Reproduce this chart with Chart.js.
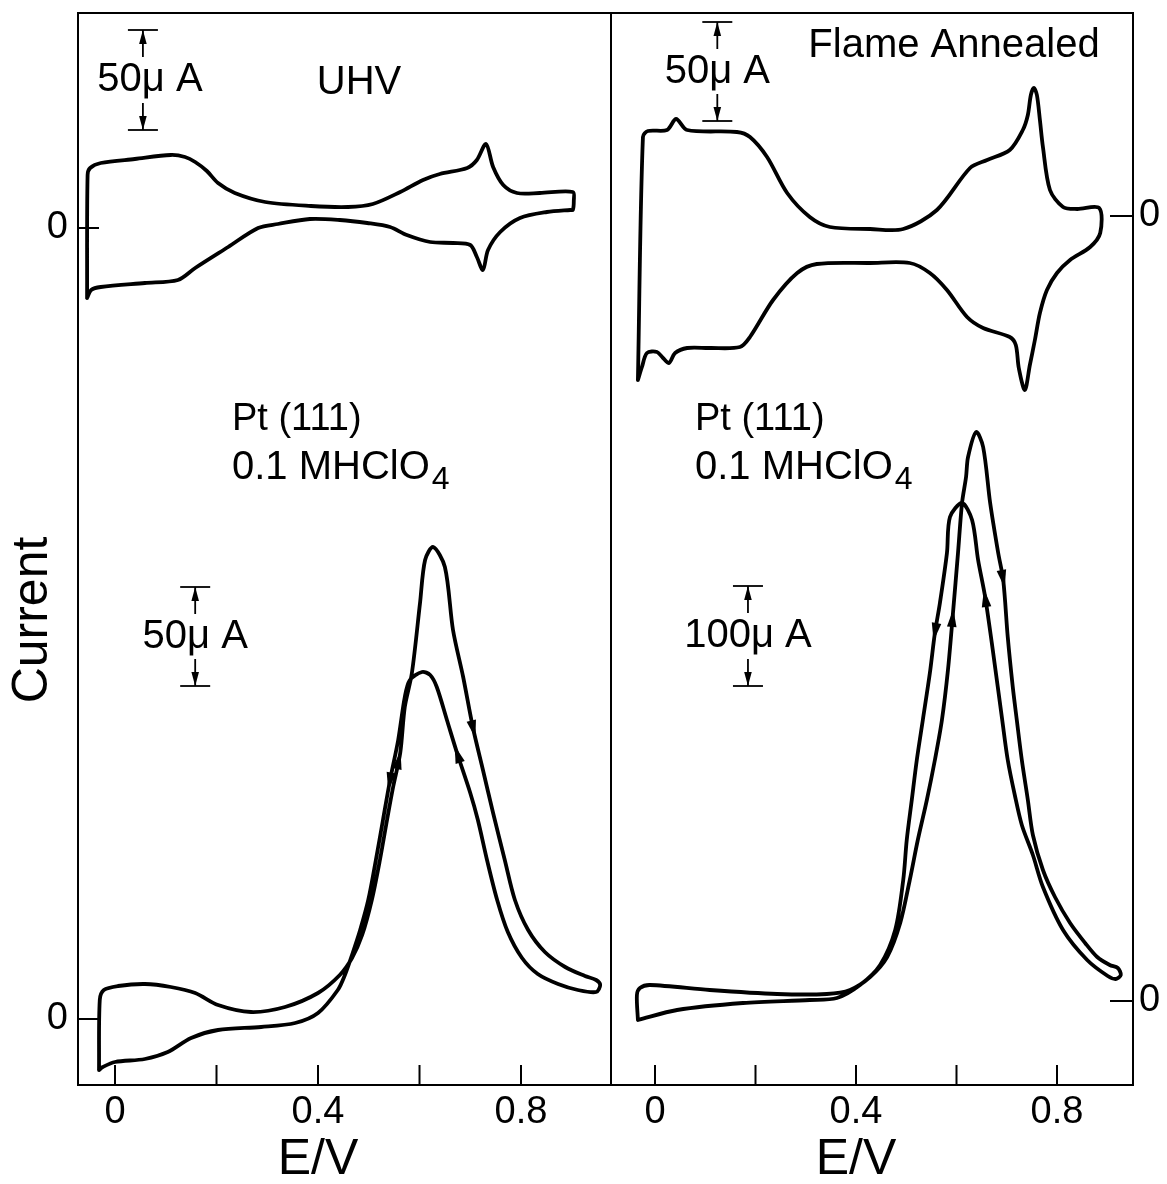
<!DOCTYPE html>
<html><head><meta charset="utf-8">
<script src="https://cdn.jsdelivr.net/npm/chart.js@4.4.0/dist/chart.umd.min.js"></script>
<style>
html,body{margin:0;padding:0;background:#fff;}
#wrap{position:relative;width:1167px;height:1184px;overflow:hidden;background:#fff;}
canvas{position:absolute;top:0;}
#cL{left:0;} #cR{left:600px;}
</style></head><body>
<div id="wrap"><canvas id="cL" width="612" height="1184"></canvas><canvas id="cR" width="567" height="1184"></canvas></div>
<script>
// ---------------- data ----------------
const xTicks = [0, 0.2, 0.4, 0.6, 0.8];
const xTickLabels = ['0', '', '0.4', '', '0.8'];

// UHV-prepared Pt(111), base voltammogram (E / V, I / uA)
const uhvBaseE = [-0.055,-0.054,-0.049,-0.028,0.039,0.110,0.138,0.158,0.181,0.203,0.236,0.296,0.386,0.459,0.508,0.562,0.607,0.640,0.694,0.713,0.731,0.745,0.765,0.792,0.837,0.902,0.904,0.902,0.897,0.851,0.798,0.759,0.735,0.725,0.713,0.700,0.666,0.621,0.575,0.542,0.497,0.443,0.384,0.321,0.282,0.223,0.158,0.124,0.059,-0.028,-0.047,-0.055];
const uhvBaseI = [-35,26.5,30,32.5,34.5,36.5,35.5,33,28.5,22.5,17.5,13,11,10.5,12,18,24,27,30,34,42,30.5,21.5,17.5,17.5,18,13.5,9,9,8,5,-2,-11,-21,-14.5,-8.5,-7.5,-7,-3.5,0.5,2.5,4,4.5,2,0,-9.5,-20,-26,-27.5,-29.5,-31,-35];

// UHV-prepared Pt(111), oxidation voltammogram
const uhvPeakE = [-0.0315,-0.030,-0.022,0.006,0.059,0.110,0.158,0.203,0.268,0.335,0.400,0.443,0.467,0.487,0.506,0.522,0.536,0.548,0.562,0.571,0.585,0.601,0.611,0.627,0.650,0.666,0.686,0.705,0.725,0.745,0.768,0.788,0.814,0.847,0.887,0.926,0.948,0.956,0.948,0.912,0.873,0.833,0.802,0.774,0.753,0.733,0.715,0.700,0.674,0.654,0.634,0.621,0.605,0.581,0.571,0.558,0.542,0.528,0.514,0.499,0.483,0.467,0.453,0.439,0.400,0.355,0.288,0.203,0.150,0.104,0.059,0,-0.024,-0.0315];
const uhvPeakI = [-25.5,9.5,14.5,16.5,17.5,16,13,7,3.5,6,13,22,30.5,42,59.5,79.5,99.5,116,133,156,173,208,229.5,236,226,194.5,171,146,124.5,103,79.5,59.5,44.5,33.5,26,21.5,19.5,17,13.5,14.5,17.5,22.5,30.5,43.5,59.5,79.5,99.5,113,133,149.5,166,172,173.5,169.5,161,139.5,119.5,99.5,79.5,59.5,44.5,32,22,14.5,3,-2,-4,-5.5,-9.5,-16.5,-20,-21.5,-24,-25.5];

// Flame-annealed Pt(111), base voltammogram
const flameBaseE = [-0.034,-0.024,-0.014,0.024,0.042,0.064,0.163,0.189,0.223,0.263,0.308,0.348,0.428,0.494,0.561,0.627,0.661,0.706,0.732,0.742,0.748,0.754,0.760,0.766,0.772,0.786,0.812,0.840,0.884,0.886,0.866,0.826,0.800,0.780,0.766,0.756,0.746,0.736,0.724,0.718,0.706,0.653,0.621,0.581,0.547,0.507,0.428,0.322,0.283,0.235,0.189,0.169,0.109,0.064,0.040,0.028,0.016,0.004,-0.016,-0.026,-0.034];
const flameBaseI = [-82,39.5,42.5,43,48.5,43,42,39.5,29.5,11.5,-0.5,-5.5,-6.5,-6.5,3,24,28,33,43,50.5,60.5,64,60.5,48,34.5,13,4.5,3.5,4,-8.5,-15.5,-22,-28.5,-37,-48.5,-62,-74.5,-87,-76,-64.5,-60.5,-56,-50.5,-37,-28.5,-23.5,-23.5,-24,-28.5,-42,-60.5,-65.5,-66,-66,-68.5,-73.5,-71,-68,-68.5,-75.5,-82];

// Flame-annealed Pt(111), oxidation voltammogram
const flamePeakE = [-0.034,-0.036,-0.030,-0.010,0.109,0.243,0.342,0.388,0.428,0.462,0.488,0.507,0.523,0.541,0.557,0.571,0.583,0.593,0.603,0.611,0.619,0.623,0.639,0.653,0.667,0.683,0.693,0.702,0.712,0.720,0.730,0.742,0.752,0.772,0.796,0.826,0.856,0.880,0.905,0.921,0.927,0.917,0.901,0.860,0.812,0.772,0.752,0.730,0.716,0.702,0.691,0.673,0.657,0.643,0.631,0.611,0.587,0.581,0.567,0.557,0.547,0.533,0.521,0.511,0.501,0.494,0.478,0.448,0.408,0.362,0.308,0.175,0.044,-0.034];
const flamePeakI = [-19,6,13,16,11,7,7,11,24,44,78,121,161,201,241,281,331,388,448,498,524,544,569,554,498,448,421,364,314,281,241,201,166,131,104,78,58,44,36,33,26,22,25,41,71,114,146,176,206,241,281,348,404,441,481,498,484,448,398,368,328,281,241,201,161,121,71,36,16,3,1,-2,-9,-19];

// scan-direction arrows on the oxidation curves (E, I, direction)
const uhvArrowE = [0.709, 0.566, 0.546, 0.674];
const uhvArrowI = [144.5, 129.5, 118, 133];
const uhvArrowDir = ['down', 'up', 'down', 'up'];
const flameArrowE = [0.6925, 0.593, 0.557, 0.657];
const flameArrowI = [421, 384, 368, 404];
const flameArrowDir = ['down', 'up', 'down', 'up'];

// ---------------- drawing ----------------
const FONT = '"Liberation Sans", Arial, Helvetica, sans-serif';
function pts(E, I) { return E.map((e, k) => ({ x: e, y: I[k] })); }
function cv(E, I, axis) {
  return { data: pts(E, I), yAxisID: axis, showLine: true, borderColor: '#000', backgroundColor: '#000',
    borderWidth: 3.8, pointRadius: 0, tension: 0.3, fill: false, borderCapStyle: 'round', borderJoinStyle: 'round' };
}
function seg(ctx, x0, y0, x1, y1) { ctx.beginPath(); ctx.moveTo(x0, y0); ctx.lineTo(x1, y1); ctx.stroke(); }
function tri(ctx, tx, ty, dx, dy, len, hw) {
  const n = Math.hypot(dx, dy) || 1; dx /= n; dy /= n;
  const bx = tx - dx * len, by = ty - dy * len;
  ctx.beginPath(); ctx.moveTo(tx, ty); ctx.lineTo(bx - dy * hw, by + dx * hw); ctx.lineTo(bx + dy * hw, by - dx * hw); ctx.closePath(); ctx.fill();
}
function drawCurveArrow(chart, ds, e, i, dir) {
  const meta = chart.getDatasetMeta(ds);
  const tx = chart.scales.x.getPixelForValue(e), ty = meta.yScale.getPixelForValue(i);
  const P = meta.data; let best = null, bd = 1e12;
  for (let k = 0; k < P.length - 1; k++) {
    const p = P[k], q = P[k + 1], dy = q.y - p.y;
    if (dir === 'up' ? dy >= 0 : dy <= 0) continue;
    const vx = q.x - p.x, vy = q.y - p.y, l2 = vx * vx + vy * vy; if (!l2) continue;
    let t = ((tx - p.x) * vx + (ty - p.y) * vy) / l2; t = Math.max(0, Math.min(1, t));
    const cx = p.x + t * vx, cy = p.y + t * vy, d = (cx - tx) ** 2 + (cy - ty) ** 2;
    if (d < bd) { bd = d; best = { cx, cy, vx, vy }; }
  }
  if (!best) return;
  const n = Math.hypot(best.vx, best.vy);
  tri(chart.ctx, best.cx + best.vx / n * 8, best.cy + best.vy / n * 8, best.vx, best.vy, 18, 4.8);
}
function drawText(ctx, tx, x, y, size, align, sub) {
  ctx.font = `${size}px ${FONT}`; ctx.textAlign = align; ctx.textBaseline = 'middle';
  ctx.fillText(tx, x, y);
  if (sub) {
    const w = ctx.measureText(tx).width;
    const sx = align === 'left' ? x + w : x + w / 2;
    ctx.font = `${Math.round(size * 0.8)}px ${FONT}`; ctx.textAlign = 'left';
    ctx.fillText(sub, sx + 2, y + size * 0.3);
  }
}

const figurePlugin = {
  id: 'figure',
  afterDatasetsDraw(chart, args, o) {
    const ctx = chart.ctx, a = chart.chartArea, sx = chart.scales.x;
    ctx.save();
    ctx.strokeStyle = '#000'; ctx.fillStyle = '#000'; ctx.lineCap = 'butt';
    ctx.lineWidth = 2;
    ctx.strokeRect(a.left, a.top, a.right - a.left, a.bottom - a.top);
    xTicks.forEach((v, k) => {
      const px = sx.getPixelForValue(v);
      seg(ctx, px, a.bottom, px, a.bottom - o.tickLen);
      if (xTickLabels[k]) drawText(ctx, xTickLabels[k], px, o.tickLabelY, o.tickSize, 'center');
    });
    drawText(ctx, o.xTitle, sx.getPixelForValue(o.xTitleAt), o.xTitleY, o.titleSize, 'center');
    o.zeros.forEach(z => {
      const py = chart.scales[z.axis].getPixelForValue(0);
      const left = z.side === 'left';
      seg(ctx, left ? a.left : a.right, py, left ? a.left + z.len : a.right - z.len, py);
      drawText(ctx, '0', left ? a.left - 10 : a.right + 6, py, o.tickSize, left ? 'right' : 'left');
    });
    ctx.lineWidth = 1.8;
    o.bars.forEach(b => {
      const ys = chart.scales[b.axis], px = sx.getPixelForValue(b.at);
      const yT = ys.getPixelForValue(b.to), yB = ys.getPixelForValue(b.from);
      seg(ctx, px - 15, yT, px + 15, yT); seg(ctx, px - 15, yB, px + 15, yB);
      seg(ctx, px, yT, px, yT + 27); seg(ctx, px, yB, px, yB - 27);
      tri(ctx, px, yT, 0, -1, 14, 3.8); tri(ctx, px, yB, 0, 1, 14, 3.8);
      drawText(ctx, b.label, px + b.dx, (yT + yB) / 2, o.barSize, 'center');
    });
    o.texts.forEach(t => drawText(ctx, t.t, t.x, t.y, t.size, t.align, t.sub));
    if (o.yTitle) {
      ctx.save(); ctx.translate(o.yTitle.x, o.yTitle.y); ctx.rotate(-Math.PI / 2);
      drawText(ctx, o.yTitle.t, 0, 0, o.yTitle.size, 'center'); ctx.restore();
    }
    o.arrows.E.forEach((e, k) => drawCurveArrow(chart, o.arrows.ds, e, o.arrows.I[k], o.arrows.dir[k]));
    ctx.restore();
  }
};

function makeChart(id, cfg) {
  return new Chart(document.getElementById(id), {
    type: 'scatter',
    data: { datasets: cfg.datasets },
    options: {
      responsive: false, animation: false, devicePixelRatio: 1, events: [],
      layout: { padding: cfg.padding },
      scales: {
        x: { type: 'linear', display: false, min: cfg.xMin, max: cfg.xMax },
        yTop: { type: 'linear', position: 'left', display: false, min: cfg.yTop[0], max: cfg.yTop[1] },
        yBot: { type: 'linear', position: 'left', display: false, min: cfg.yBot[0], max: cfg.yBot[1] }
      },
      plugins: { legend: { display: false }, tooltip: { enabled: false }, figure: cfg.fig }
    },
    plugins: [figurePlugin]
  });
}

makeChart('cL', {
  padding: { left: 78, right: 1, top: 13, bottom: 99 },
  xMin: -0.0729, xMax: 0.9773, yTop: [-428.5, 107.5], yBot: [-33, 503],
  datasets: [cv(uhvBaseE, uhvBaseI, 'yTop'), cv(uhvPeakE, uhvPeakI, 'yBot')],
  fig: {
    tickLen: 20, tickLabelY: 1113, tickSize: 38, xTitle: 'E/V', xTitleAt: 0.4, xTitleY: 1160, titleSize: 50, barSize: 40,
    zeros: [{ axis: 'yTop', side: 'left', len: 21 }, { axis: 'yBot', side: 'left', len: 21 }],
    bars: [{ axis: 'yTop', at: 0.055, from: 49, to: 99, label: '50μ A', dx: 7 },
           { axis: 'yBot', at: 0.158, from: 166.5, to: 216, label: '50μ A', dx: 0 }],
    texts: [{ t: 'UHV', x: 359, y: 83, align: 'center', size: 40 },
            { t: 'Pt (111)', x: 232, y: 420, align: 'left', size: 38 },
            { t: '0.1 MHClO', sub: '4', x: 232, y: 468, align: 'left', size: 40 }],
    yTitle: { t: 'Current', x: 33, y: 620, size: 50 },
    arrows: { ds: 1, E: uhvArrowE, I: uhvArrowI, dir: uhvArrowDir }
  }
});

makeChart('cR', {
  padding: { left: 11, right: 34, top: 13, bottom: 99 },
  xMin: -0.08756, xMax: 0.95125, yTop: [-434.5, 101.5], yBot: [-84, 988],
  datasets: [cv(flameBaseE, flameBaseI, 'yTop'), cv(flamePeakE, flamePeakI, 'yBot')],
  fig: {
    tickLen: 20, tickLabelY: 1113, tickSize: 38, xTitle: 'E/V', xTitleAt: 0.4, xTitleY: 1160, titleSize: 50, barSize: 40,
    zeros: [{ axis: 'yTop', side: 'right', len: 23 }, { axis: 'yBot', side: 'right', len: 23 }],
    bars: [{ axis: 'yTop', at: 0.124, from: 47.5, to: 97, label: '50μ A', dx: 0 },
           { axis: 'yBot', at: 0.185, from: 315, to: 415, label: '100μ A', dx: 0 }],
    texts: [{ t: 'Flame Annealed', x: 354, y: 46, align: 'center', size: 40 },
            { t: 'Pt (111)', x: 95, y: 420, align: 'left', size: 38 },
            { t: '0.1 MHClO', sub: '4', x: 95, y: 468, align: 'left', size: 40 }],
    yTitle: null,
    arrows: { ds: 1, E: flameArrowE, I: flameArrowI, dir: flameArrowDir }
  }
});
</script>
</body></html>
